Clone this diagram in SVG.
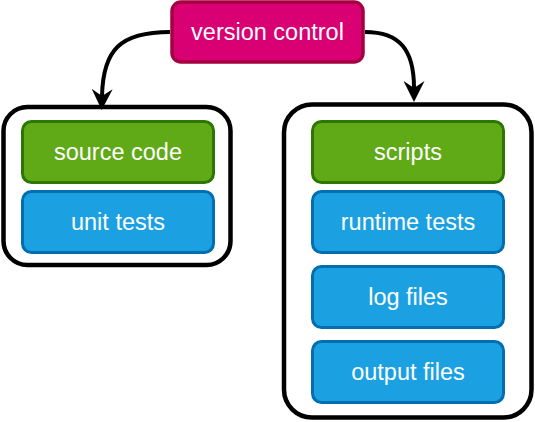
<svg xmlns="http://www.w3.org/2000/svg" width="535" height="422" viewBox="0 0 535 422">
<style>
.box{stroke-width:3}
.green{fill:#60A917;stroke:#2D7600}
.blue{fill:#1BA1E2;stroke:#006EAF}
.pink{fill:#D80073;stroke:#A50040;stroke-width:3.5}
.cont{fill:#fff;stroke:#000;stroke-width:4.5}
.lbl{font-family:"Liberation Sans",Arial,sans-serif;font-size:23.5px;fill:#fff;text-anchor:middle}
.edge{fill:none;stroke:#000;stroke-width:4}
</style>
<defs>
<marker id="arr" viewBox="0 0 21 21" refX="7" refY="10.5" markerWidth="21" markerHeight="21" markerUnits="userSpaceOnUse" orient="auto">
<path d="M0,0 L21,10.5 L0,21 L7,10.5 Z" fill="#000"/>
</marker>
</defs>
<g id="left-container"><rect class="cont" x="3.5" y="107" width="227" height="158" rx="24"/></g>
<g id="right-container"><rect class="cont" x="284" y="104.5" width="247.5" height="313" rx="28"/></g>
<g id="version-control"><rect class="pink" x="172" y="2" width="191" height="60" rx="9"/><text class="lbl" x="267.5" y="40">version control</text></g>
<g id="source-code"><rect class="box green" x="22.5" y="121.5" width="191" height="61" rx="9"/><text class="lbl" x="118" y="160">source code</text></g>
<g id="unit-tests"><rect class="box blue" x="22.5" y="191.5" width="191" height="61" rx="9"/><text class="lbl" x="118" y="230">unit tests</text></g>
<g id="scripts"><rect class="box green" x="312.5" y="121.5" width="191" height="61" rx="9"/><text class="lbl" x="408" y="160">scripts</text></g>
<g id="runtime-tests"><rect class="box blue" x="312.5" y="191.5" width="191" height="61" rx="9"/><text class="lbl" x="408" y="230">runtime tests</text></g>
<g id="log-files"><rect class="box blue" x="312.5" y="266.5" width="191" height="61" rx="9"/><text class="lbl" x="408" y="305">log files</text></g>
<g id="output-files"><rect class="box blue" x="312.5" y="341.5" width="191" height="61" rx="9"/><text class="lbl" x="408" y="380">output files</text></g>
<g id="connectors">
<path class="edge" d="M170,32 C120,32 103,50 102,96" marker-end="url(#arr)"/>
<path class="edge" d="M365,32 C400,32 414,50 414,88" marker-end="url(#arr)"/>
</g>
</svg>
